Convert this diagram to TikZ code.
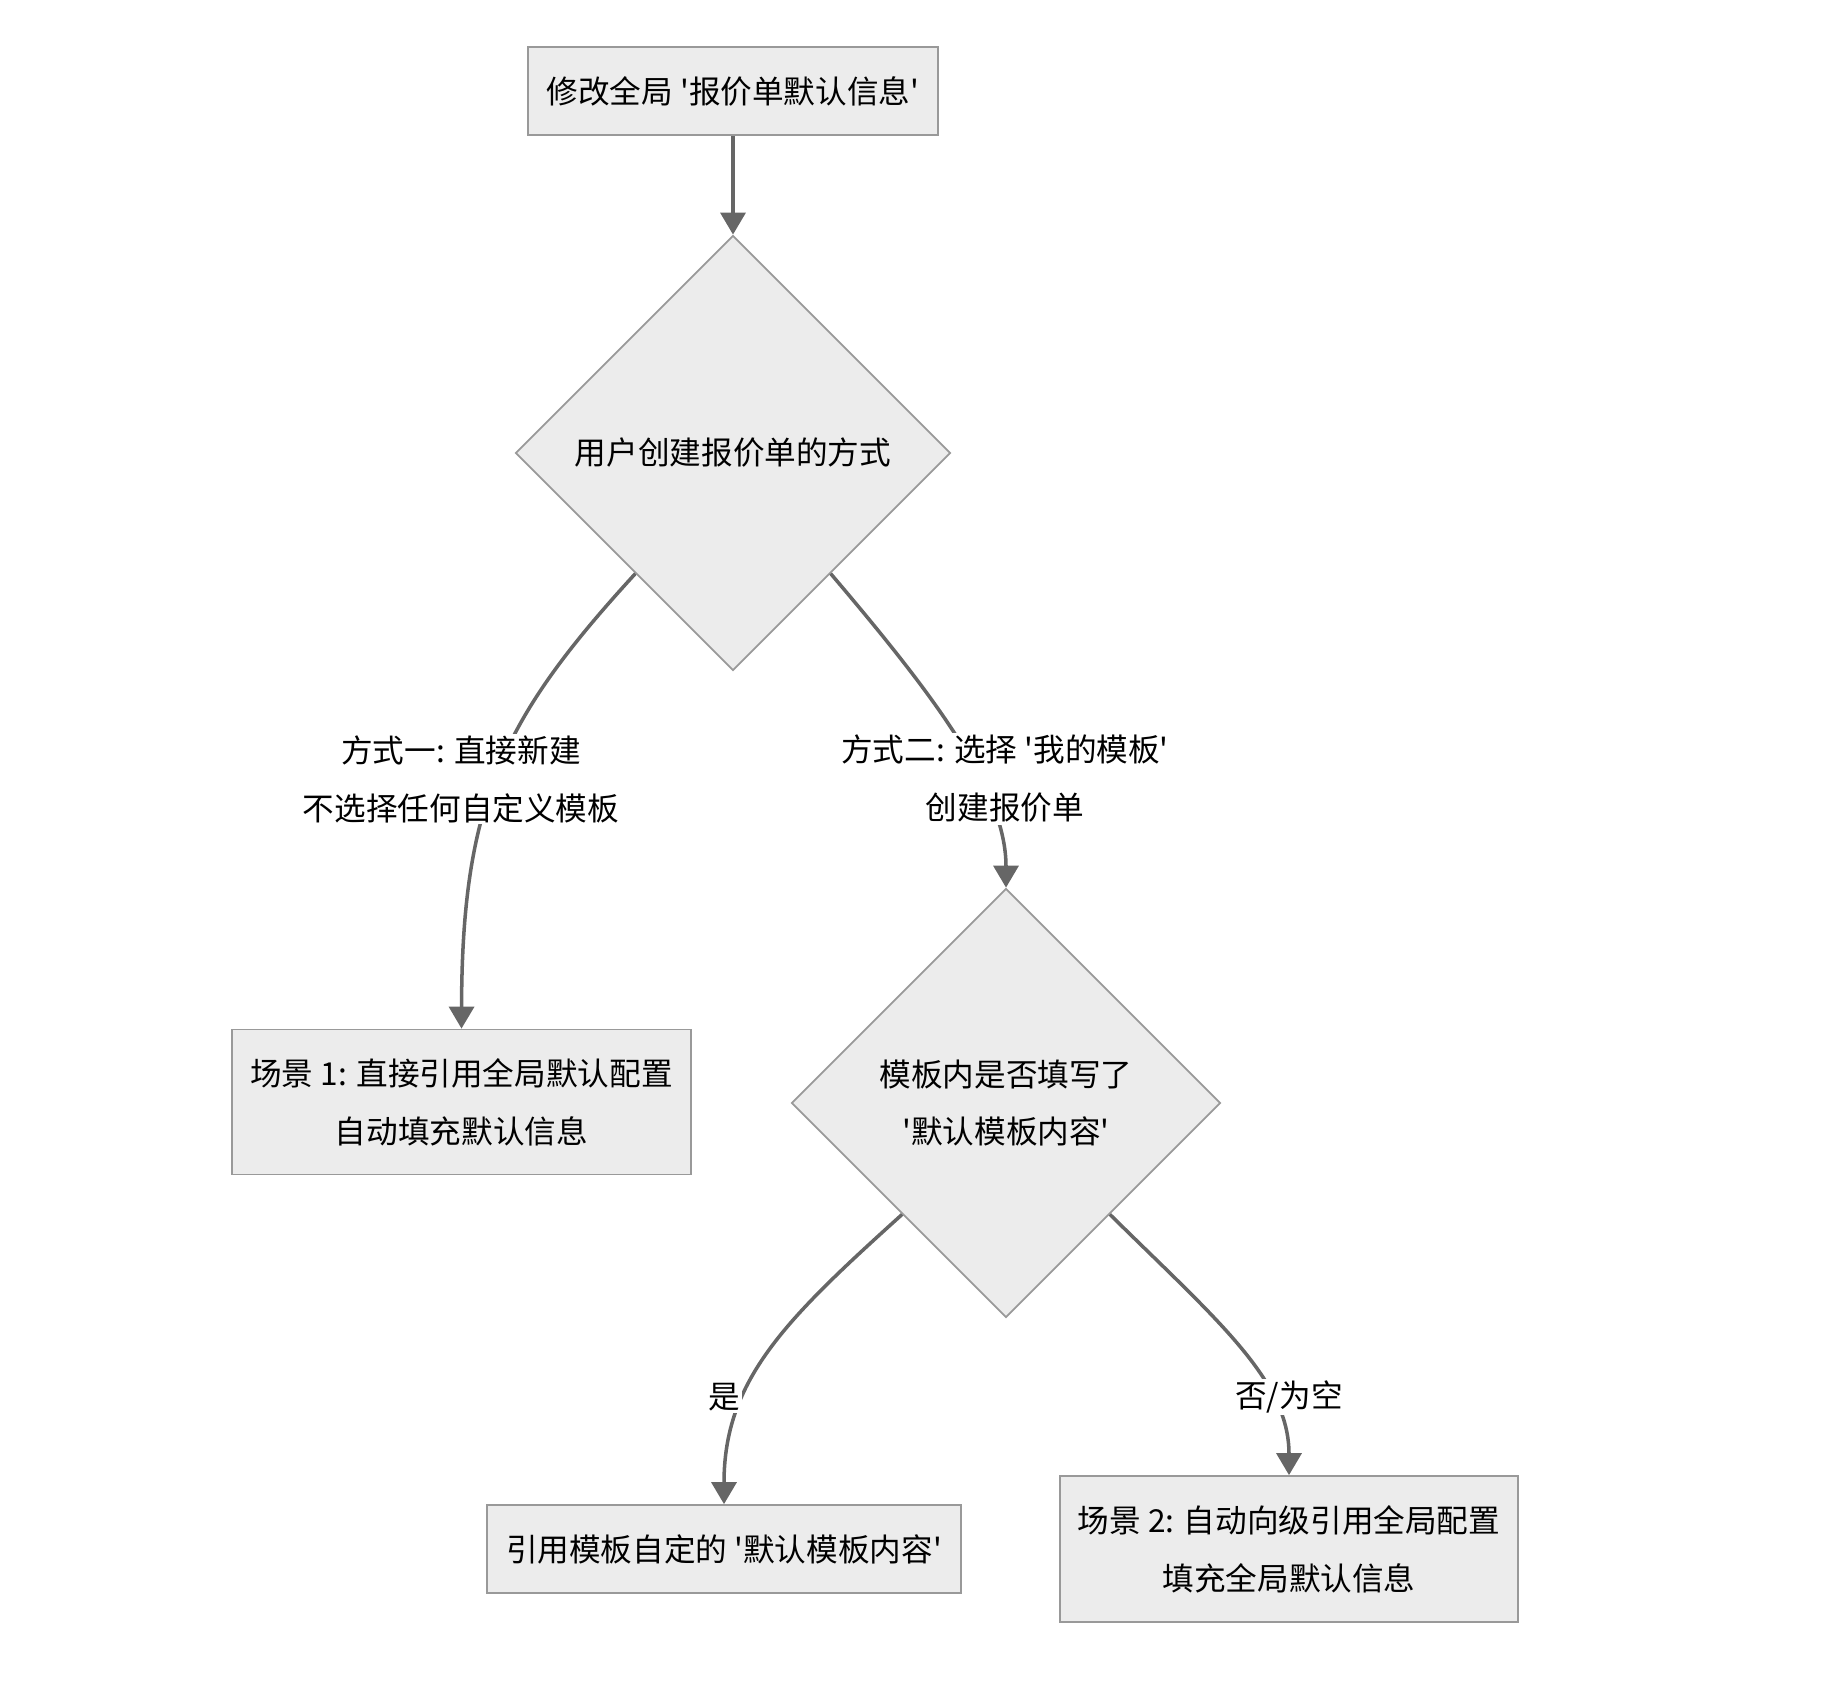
\documentclass[tikz,border=0pt]{standalone}
\usepackage{fontspec}
\newfontfamily\cjk{Noto Sans CJK SC}
\usetikzlibrary{shapes.geometric,arrows.meta}

\definecolor{nodefill}{HTML}{ECECEC}
\definecolor{nodeline}{HTML}{999999}
\definecolor{flowline}{HTML}{666666}

\tikzset{
	procbox/.style={draw=nodeline,fill=nodefill,line width=1pt,align=center,inner sep=0pt,font=\cjk\fontsize{18}{33}\selectfont},
	choice/.style={diamond,draw=nodeline,fill=nodefill,line width=1pt,align=center,inner sep=0pt,font=\cjk\fontsize{18}{33}\selectfont},
	edgelabel/.style={fill=white,align=center,inner sep=1pt,font=\cjk\fontsize{18}{33}\selectfont},
	flow/.style={draw=flowline,line width=2pt,-{Triangle[length=0.44cm,width=0.5cm]}}
}

\begin{document}
\begin{tikzpicture}
	
	\useasboundingbox (0,0) rectangle (36.6,-33.84);
	
	\node[procbox,minimum width=8.2cm,minimum height=1.76cm] (start) at (14.66,-1.82) {修改全局 '报价单默认信息'};
	\node[choice,minimum width=8.7cm,minimum height=8.7cm] (way) at (14.66,-9.06) {用户创建报价单的方式};
	
	\node[procbox,minimum width=9.18cm,minimum height=2.9cm] (scene1) at (9.23,-22.04) {场景 1: 直接引用全局默认配置\\自动填充默认信息};
	\node[choice,minimum width=8.58cm,minimum height=8.58cm] (filled) at (20.12,-22.06) {模板内是否填写了\\'默认模板内容'};
	
	\node[procbox,minimum width=9.48cm,minimum height=1.76cm] (usetpl) at (14.48,-30.98) {引用模板自定的 '默认模板内容'};
	\node[procbox,minimum width=9.16cm,minimum height=2.92cm] (scene2) at (25.78,-30.98) {场景 2: 自动向级引用全局配置\\填充全局默认信息};
	
	\draw[flow] (start) -- (way);
	\draw[flow] (way.231) .. controls (10.08,-14.34) and (9.24,-16.0) .. (scene1.north);
	\draw[flow] (way.-51) .. controls (18.66,-13.88) and (20.12,-15.8) .. (filled.north);
	\draw[flow] (filled.227) .. controls (15.7,-26.4) and (14.48,-27.6) .. (usetpl.north);
	\draw[flow] (filled.-47) .. controls (24.34,-26.4) and (25.78,-27.6) .. (scene2.north);
	
	\node[edgelabel] (lab1) at (9.22,-15.58) {方式一: 直接新建\\不选择任何自定义模板};
	\node[edgelabel] (lab2) at (20.1,-15.58) {方式二: 选择 '我的模板'\\创建报价单};
	\node[edgelabel] (lab3) at (14.48,-27.94) {是};
	\node[edgelabel] (lab4) at (25.78,-27.94) {否/为空};
	
\end{tikzpicture}
\end{document}
